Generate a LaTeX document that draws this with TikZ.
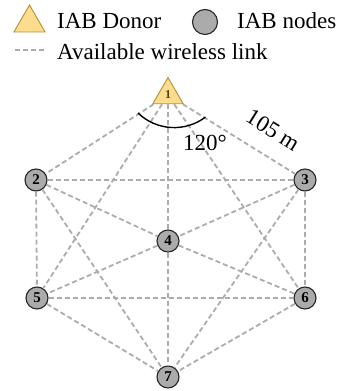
\documentclass[tikz,border=0pt]{standalone}
\usepackage{fontspec}
\setmainfont{Liberation Serif}
\usepackage{tikz}
\usetikzlibrary{shapes.geometric, positioning}
\definecolor{donorfill}{HTML}{FCDD8D}
\definecolor{donorline}{HTML}{B3902E}
\definecolor{nodefill}{HTML}{ABABAB}
\definecolor{linkgray}{HTML}{ACACAC}
\tikzstyle{donor} = [regular polygon, regular polygon sides=3, minimum size=35pt, inner sep=0pt, fill=donorfill, draw=donorline, line width=0.9pt, text=donorline!45!black, font=\bfseries\fontsize{12}{12}\selectfont]
\tikzstyle{iab} = [circle, minimum size=22pt, inner sep=0pt, fill=nodefill, draw=black!85, line width=1.1pt, font=\bfseries\fontsize{15}{15}\selectfont]
\tikzstyle{link} = [draw=linkgray, line width=1.8pt, dash pattern=on 5pt off 3pt]
\tikzstyle{lbl} = [font=\fontsize{23}{25}\selectfont, inner sep=0pt]

\begin{document}
\begin{tikzpicture}[x=1pt, y=1pt]
\useasboundingbox (0,0) rectangle (340,391);
% legend
\node (legdonor) [donor, minimum size=36pt] at (29.5,368) {};
\node (txtdonor) [lbl, anchor=base west] at (57,362) {IAB Donor};
\node (legiab) [iab, minimum size=25pt] at (205,369) {};
\node (txtiab) [lbl, anchor=base west] at (237,362) {IAB nodes};
\coordinate (legA) at (15,341);
\coordinate (legB) at (47,341);
\draw [link, line width=1.1pt, dash pattern=on 5pt off 3pt] (legA) -- (legB);
\node (txtlink) [lbl, anchor=base west] at (57,331) {Available wireless link};
% hexagon of nodes
\node (iab1) [donor] at (168,296) {1};
\node (iab2) [iab] at (36,211) {2};
\node (iab3) [iab] at (305,211) {3};
\node (iab4) [iab] at (168,150) {4};
\node (iab5) [iab] at (37,93) {5};
\node (iab6) [iab] at (305,93) {6};
\node (iab7) [iab] at (168,14) {7};
\draw [link] (iab1) -- (iab2);
\draw [link] (iab1) -- (iab3);
\draw [link] (iab1) -- (iab4);
\draw [link] (iab1) -- (iab5);
\draw [link] (iab1) -- (iab6);
\draw [link] (iab2) -- (iab3);
\draw [link] (iab2) -- (iab4);
\draw [link] (iab2) -- (iab5);
\draw [link] (iab2) -- (iab7);
\draw [link] (iab3) -- (iab4);
\draw [link] (iab3) -- (iab6);
\draw [link] (iab3) -- (iab7);
\draw [link] (iab4) -- (iab5);
\draw [link] (iab4) -- (iab6);
\draw [link] (iab4) -- (iab7);
\draw [link] (iab5) -- (iab6);
\draw [link] (iab5) -- (iab7);
\draw [link] (iab6) -- (iab7);
% angle and distance
\coordinate (arcstart) at (138,278);
\draw [line width=1.4pt] (arcstart) arc[start angle=226, end angle=307, radius=52];
\node (ang) [lbl] at (205,248) {120°};
\node (dist) [lbl, rotate=-32] at (273,261) {105 m};
\end{tikzpicture}
\end{document}
